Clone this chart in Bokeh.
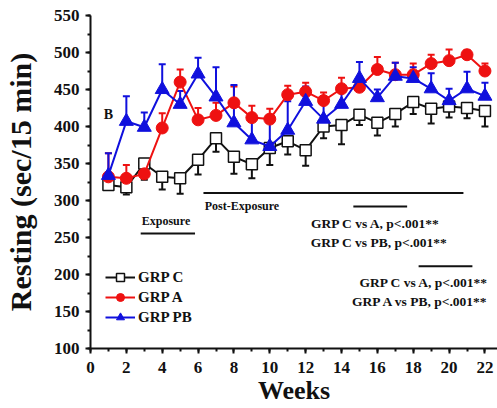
from bokeh.plotting import figure
from bokeh.models import (ColumnDataSource, Whisker, TeeHead, Label, Legend, LegendItem,
                          SingleIntervalTicker, Range1d)
from bokeh.embed import file_html
from bokeh.resources import INLINE

# ---------------- data ----------------
weeks = list(range(1, 23))
grp_c = [321, 318, 350, 332, 330, 355, 384, 359, 349, 371, 380, 368,
         400, 402, 416, 405, 417, 433, 424, 427, 425, 421]
grp_c_err = [5, 10, 22, 17, 21, 20, 18, 23, 19, 23, 18, 21,
             16, 26, 14, 17, 17, 16, 20, 15, 14, 21]
grp_a = [332, 330, 336, 398, 460, 409, 415, 432, 412, 410, 443, 447,
         435, 451, 453, 477, 470, 470, 485, 489, 497, 475]
grp_a_err = [32, 18, 20, 20, 17, 16, 17, 22, 16, 14, 12, 12,
             11, 15, 13, 17, 16, 15, 12, 15, 6, 10]
grp_pb = [334, 407, 399, 450, 430, 471, 440, 405, 382, 373, 395, 434,
          410, 430, 465, 439, 468, 465, 451, 435, 451, 441]
grp_pb_err = [30, 34, 20, 34, 18, 22, 40, 51, 25, 32, 39, 20,
              24, 21, 22, 11, 18, 15, 21, 16, 23, 18]
series_names = ["GRP C", "GRP A", "GRP PB"]
x_label = "Weeks"
y_label = "Resting (sec/15 min)"

FONT = "Liberation Serif"
RED = "#ee1111"
BLUE = "#1010dd"
BLACK = "#111111"

p = figure(width=497, height=408, x_range=Range1d(0, 22.7), y_range=Range1d(100, 550),
           output_backend="svg", toolbar_location=None,
           min_border_left=88, min_border_top=15, min_border_right=0, min_border_bottom=60)
p.xgrid.visible = False
p.ygrid.visible = False
p.outline_line_color = None
p.background_fill_color = "white"

p.xaxis.ticker = SingleIntervalTicker(interval=2, num_minor_ticks=2)
p.yaxis.ticker = SingleIntervalTicker(interval=50, num_minor_ticks=2)
for ax in (p.xaxis[0], p.yaxis[0]):
    ax.axis_line_width = 2
    ax.axis_line_color = BLACK
    ax.major_tick_line_width = 2
    ax.major_tick_line_color = BLACK
    ax.minor_tick_line_width = 2
    ax.minor_tick_line_color = BLACK
    ax.major_tick_in = 0
    ax.major_tick_out = 5
    ax.minor_tick_in = 0
    ax.minor_tick_out = 3
    ax.major_label_text_font = FONT
    ax.major_label_text_font_style = "bold"
    ax.major_label_text_font_size = "17px"
    ax.major_label_text_color = BLACK
    ax.axis_label_text_font = FONT
    ax.axis_label_text_font_style = "bold"
    ax.axis_label_text_color = BLACK
p.xaxis.axis_label = x_label
p.xaxis.axis_label_text_font_size = "26px"
p.xaxis.major_label_standoff = 8
p.xaxis.axis_label_standoff = 0
p.yaxis.axis_label = y_label
p.yaxis.axis_label_text_font_size = "30px"
p.yaxis.major_label_standoff = 6
p.yaxis.axis_label_standoff = 14

src_c = ColumnDataSource(dict(x=weeks, y=grp_c, lo=[v - e for v, e in zip(grp_c, grp_c_err)]))
src_a = ColumnDataSource(dict(x=weeks, y=grp_a, hi=[v + e for v, e in zip(grp_a, grp_a_err)]))
src_pb = ColumnDataSource(dict(x=weeks, y=grp_pb, hi=[v + e for v, e in zip(grp_pb, grp_pb_err)]))

# error bars
p.add_layout(Whisker(source=src_c, base="x", upper="y", lower="lo", dimension="height",
                     line_color=BLACK, line_width=2, upper_head=None,
                     lower_head=TeeHead(size=7, line_color=BLACK, line_width=2)))
p.add_layout(Whisker(source=src_a, base="x", upper="hi", lower="y", dimension="height",
                     line_color=RED, line_width=2, lower_head=None,
                     upper_head=TeeHead(size=7, line_color=RED, line_width=2)))
p.add_layout(Whisker(source=src_pb, base="x", upper="hi", lower="y", dimension="height",
                     line_color=BLUE, line_width=2, lower_head=None,
                     upper_head=TeeHead(size=7, line_color=BLUE, line_width=2)))

lc = p.line("x", "y", source=src_c, line_color=BLACK, line_width=2)
mc = p.scatter("x", "y", source=src_c, marker="square", size=11, fill_color="white",
               line_color=BLACK, line_width=1.5)
la = p.line("x", "y", source=src_a, line_color=RED, line_width=2)
ma = p.scatter("x", "y", source=src_a, marker="circle", size=12, fill_color=RED,
               line_color=RED, line_width=1)
lb = p.line("x", "y", source=src_pb, line_color=BLUE, line_width=2)
mb = p.scatter("x", "y", source=src_pb, marker="triangle", size=14, fill_color=BLUE,
               line_color=BLUE, line_width=1)

legend = Legend(items=[LegendItem(label=series_names[0], renderers=[lc, mc]),
                       LegendItem(label=series_names[1], renderers=[la, ma]),
                       LegendItem(label=series_names[2], renderers=[lb, mb])],
                location=(15, 21), orientation="vertical",
                glyph_width=30, glyph_height=20, label_standoff=3, spacing=0,
                padding=0, margin=0, border_line_alpha=0, background_fill_alpha=0,
                label_text_font=FONT, label_text_font_style="bold",
                label_text_font_size="15px", label_text_color=BLACK,
                label_height=20)
p.add_layout(legend, "center")

# annotation bars
p.segment(x0=[2.8, 6.3, 14.66, 18.3], y0=[255.5, 310, 292, 211],
          x1=[5.83, 20.8, 17.66, 21.3], y1=[255.5, 310, 292, 211],
          line_color=BLACK, line_width=2)

def lab(txt, x, y, size, align="center"):
    p.add_layout(Label(x=x, y=y, text=txt, text_font=FONT, text_font_style="bold",
                       text_font_size=size, text_align=align, text_baseline="middle",
                       text_color=BLACK))

lab("Exposure", 4.21, 272, "12px")
lab("Post-Exposure", 6.37, 292, "12px", "left")
lab("GRP C vs A, p<.001**", 15.9, 269.5, "13.5px")
lab("GRP C vs PB, p<.001**", 16.1, 243, "13.5px")
lab("GRP C vs A, p<.001**", 18.6, 189.5, "13.5px")
lab("GRP A vs PB, p<.001**", 18.4, 163.6, "13.5px")
lab("B", 1.0, 416, "14px")

open("out.html", "w").write(file_html(p, INLINE))
